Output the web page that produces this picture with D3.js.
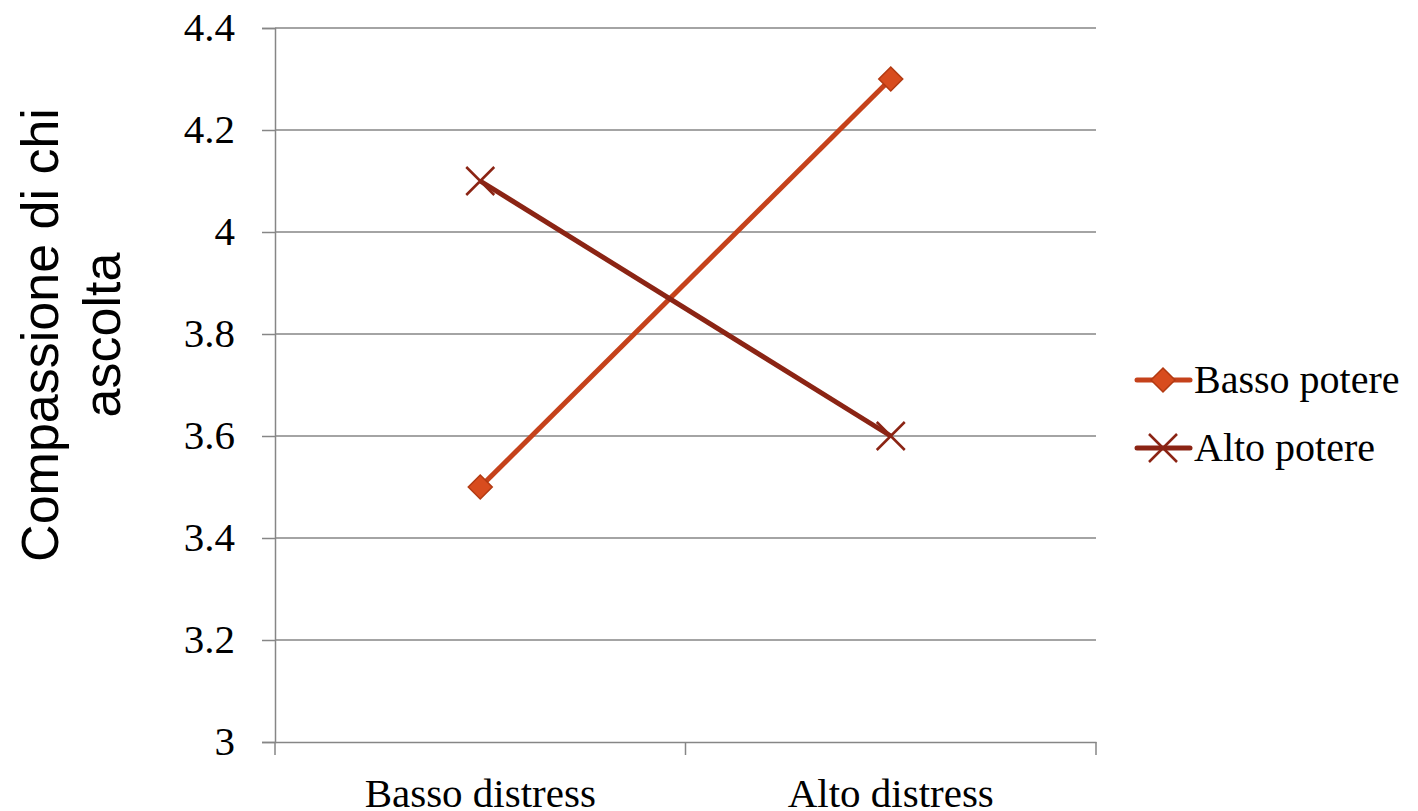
<!DOCTYPE html>
<html><head><meta charset="utf-8">
<script src="https://cdn.jsdelivr.net/npm/d3@7"></script>
<style>body{margin:0;background:#fff}svg{display:block}</style>
</head><body>
<svg id="c" width="1418" height="811"></svg>
<script>
const categories = ["Basso distress", "Alto distress"];
const seriesNames = ["Basso potere", "Alto potere"];
const bassoPotere = [3.5, 4.3];
const altoPotere = [4.1, 3.6];
const yTicks = [3, 3.2, 3.4, 3.6, 3.8, 4, 4.2, 4.4];
const yTickLabels = ["3", "3.2", "3.4", "3.6", "3.8", "4", "4.2", "4.4"];
const yTitle = ["Compassione di chi", "ascolta"];

const svg = d3.select("#c");
const L = 275, R = 1096, T = 28, B = 742;
const serif = "'Liberation Serif','DejaVu Serif',serif";
const sans = "'Liberation Sans',Arial,sans-serif";
const axisCol = "#868686";

const x = d3.scaleBand().domain(categories).range([L, R]);
const y = d3.scaleLinear().domain([3, 4.4]).range([B, T]);

// gridlines
svg.append("g").selectAll("line").data(yTicks.slice(1)).join("line")
  .attr("x1", L).attr("x2", R).attr("y1", d => y(d)).attr("y2", d => y(d))
  .attr("stroke", axisCol).attr("stroke-width", 1.5);

// y axis
const ya = svg.append("g").attr("transform", `translate(${L},0)`)
  .call(d3.axisLeft(y).tickValues(yTicks).tickFormat((d,i) => yTickLabels[i]).tickSize(13).tickPadding(27));
ya.select(".domain").attr("stroke", axisCol).attr("stroke-width", 1.5);
ya.selectAll(".tick line").attr("stroke", axisCol).attr("stroke-width", 1.5);
ya.selectAll("text").attr("font-family", serif).attr("font-size", 41).attr("fill", "#000").attr("dy", "0.3em");

// x axis
const xa = svg.append("g").attr("transform", `translate(0,${B})`)
  .call(d3.axisBottom(x).tickSize(0).tickPadding(36));
xa.select(".domain").attr("stroke", axisCol).attr("stroke-width", 1.5);
xa.selectAll("text").attr("font-family", serif).attr("font-size", 41).attr("fill", "#000");
const bounds = [L, ...categories.map(c => x(c) + x.bandwidth())];
xa.selectAll(".xt").data(bounds).join("line").attr("class", "xt")
  .attr("x1", d => d).attr("x2", d => d).attr("y1", 0).attr("y2", 13)
  .attr("stroke", axisCol).attr("stroke-width", 1.5);

// y title
const yt = svg.append("text").attr("transform", `translate(72,335) rotate(-90)`)
  .attr("text-anchor", "middle").attr("font-family", sans).attr("font-size", 52).attr("fill", "#000");
yt.selectAll("tspan").data(yTitle).join("tspan")
  .attr("x", 0).attr("dy", (d,i) => i === 0 ? -14 : 62).text(d => d);

const cx = c => x(c) + x.bandwidth() / 2;
const col1 = "#C5421B", fill1 = "#D84C1E", col2 = "#8B2414";
const line = d3.line().x((d,i) => cx(categories[i])).y(d => y(d));

function diamond(g, px, py, s) {
  g.append("path").attr("d", `M${px},${py-s}L${px+s},${py}L${px},${py+s}L${px-s},${py}Z`)
    .attr("fill", fill1).attr("stroke", "#B23A12").attr("stroke-width", 1.5);
}
function cross(g, px, py, s) {
  g.append("path").attr("d", `M${px-s},${py-s}L${px+s},${py+s}M${px+s},${py-s}L${px-s},${py+s}`)
    .attr("stroke", col2).attr("stroke-width", 2.5).attr("fill", "none");
}

const gl = svg.append("g");
gl.append("path").datum(bassoPotere).attr("d", line).attr("fill", "none").attr("stroke", col1).attr("stroke-width", 5);
gl.append("path").datum(altoPotere).attr("d", line).attr("fill", "none").attr("stroke", col2).attr("stroke-width", 5);
bassoPotere.forEach((v,i) => diamond(gl, cx(categories[i]), y(v), 12));
altoPotere.forEach((v,i) => cross(gl, cx(categories[i]), y(v), 14));

// legend
const lg = svg.append("g");
const legY = [380, 448];
[col1, col2].forEach((c,i) => {
  lg.append("line").attr("x1", 1137).attr("x2", 1190).attr("y1", legY[i]).attr("y2", legY[i])
    .attr("stroke", c).attr("stroke-width", 5).attr("stroke-linecap", "round");
  if (i === 0) diamond(lg, 1163, legY[i], 12); else cross(lg, 1163, legY[i], 14);
  lg.append("text").attr("x", 1194).attr("y", legY[i]).attr("dy", "0.33em")
    .attr("font-family", serif).attr("font-size", 40).attr("fill", "#000").text(seriesNames[i]);
});
</script>
</body></html>
